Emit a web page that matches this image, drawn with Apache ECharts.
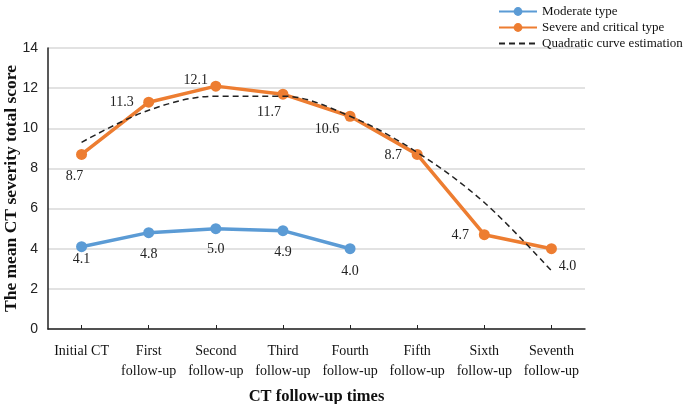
<!DOCTYPE html>
<html><head><meta charset="utf-8">
<script src="https://cdn.jsdelivr.net/npm/echarts@6/dist/echarts.min.js"></script>
<style>html,body{margin:0;padding:0;background:#fff}#c{width:685px;height:404px}</style>
</head><body><div id="c"></div>
<script>
const categories = ['Initial CT', 'First\nfollow-up', 'Second\nfollow-up', 'Third\nfollow-up', 'Fourth\nfollow-up', 'Fifth\nfollow-up', 'Sixth\nfollow-up', 'Seventh\nfollow-up'];
const moderate = [4.1, 4.8, 5.0, 4.9, 4.0];
const severe = [8.7, 11.3, 12.1, 11.7, 10.6, 8.7, 4.7, 4.0];
const quadratic = [9.3, 10.9, 11.6, 11.6, 10.6, 8.8, 6.3, 2.9];
const yTicks = [0, 2, 4, 6, 8, 10, 12, 14];

// label offsets (style only)
const severeOffsets = [[-7, 22], [-27, 0], [-20, -6], [-14, 18], [-23, 13], [-24, 1], [-24, 1], [16, 18]];
const moderateOffsets = [[0, 13], [0, 22], [0, 21], [0, 22], [0, 23]];

const serif = '"Liberation Serif", "Times New Roman", serif';
const labelBase = { show: true, fontFamily: serif, fontSize: 14, color: '#222', formatter: p => p.value.toFixed(1) };

const chart = echarts.init(document.getElementById('c'));
chart.setOption({
  animation: false,
  backgroundColor: '#fff',
  grid: { left: 48, right: 100, top: 48, bottom: 75, containLabel: false, outerBoundsMode: 'none' },
  legend: {
    orient: 'vertical', left: 493, top: 0, itemWidth: 38, itemHeight: 11, itemGap: 3,
    textStyle: { fontFamily: serif, fontSize: 13, color: '#111' },
    data: ['Moderate type', 'Severe and critical type',
      { name: 'Quadratic curve estimation', itemStyle: { opacity: 0 } }]
  },
  xAxis: {
    type: 'category', data: categories, boundaryGap: true,
    name: 'CT follow-up times', nameLocation: 'middle', nameGap: 59, nameMoveOverlap: false,
    nameTextStyle: { fontFamily: serif, fontSize: 16.5, fontWeight: 'bold', color: '#111' },
    axisLine: { lineStyle: { color: '#222', width: 1.5 } },
    axisTick: { show: true, inside: true, length: 4, alignWithLabel: true, lineStyle: { color: '#222' } },
    axisLabel: { fontFamily: serif, fontSize: 14, color: '#111', lineHeight: 20, margin: 12, interval: 0 }
  },
  yAxis: {
    type: 'value', min: 0, max: 14, interval: 2,
    name: 'The mean CT severity total score', nameLocation: 'middle', nameGap: 28, nameMoveOverlap: false,
    nameTextStyle: { fontFamily: serif, fontSize: 17.5, fontWeight: 'bold', color: '#111' },
    axisLine: { show: true, lineStyle: { color: '#222', width: 1.5 } },
    axisTick: { show: false },
    splitLine: { lineStyle: { color: '#d9d9d9', width: 1.5 } },
    axisLabel: { fontFamily: '"Liberation Sans", Arial, sans-serif', fontSize: 14, color: '#222', margin: 10,
      formatter: v => yTicks.includes(v) ? String(v) : '' }
  },
  series: [
    {
      name: 'Moderate type', type: 'line', color: '#5b9bd5',
      symbol: 'circle', symbolSize: 11, lineStyle: { width: 3.5 },
      data: moderate.map((v, i) => ({ value: v, label: Object.assign({}, labelBase, { position: 'inside', offset: moderateOffsets[i] }) })),
      z: 3
    },
    {
      name: 'Severe and critical type', type: 'line', color: '#ed7d31',
      symbol: 'circle', symbolSize: 11, lineStyle: { width: 3.5 },
      data: severe.map((v, i) => ({ value: v, label: Object.assign({}, labelBase, { position: 'inside', offset: severeOffsets[i] }) })),
      z: 3
    },
    {
      name: 'Quadratic curve estimation', type: 'line', color: '#222',
      symbol: 'none', smooth: 0.35, lineStyle: { width: 1.5, type: [6, 4] },
      data: quadratic, z: 4
    }
  ]
});
</script></body></html>
